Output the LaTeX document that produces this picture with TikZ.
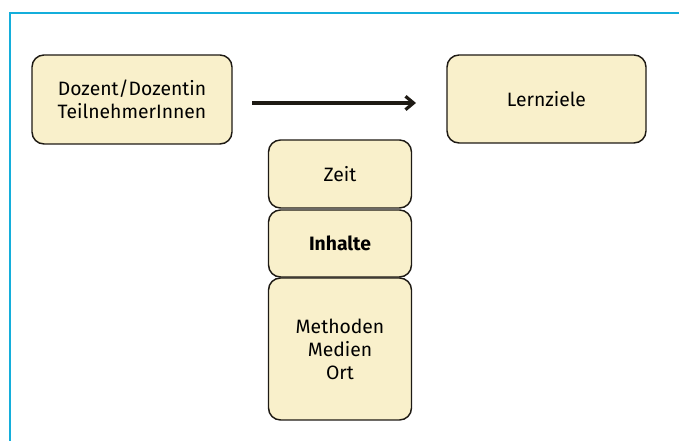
\documentclass[tikz,border=0pt]{standalone}
\usepackage{fontspec}
\setmainfont{Fira Sans}
\usetikzlibrary{arrows.meta}
\definecolor{boxfill}{HTML}{F9F0CB}
\definecolor{frameblue}{HTML}{14AEDB}
\definecolor{boxline}{HTML}{1E1A14}
\tikzset{
  card/.style={draw=boxline, line width=1.1pt, fill=boxfill, rounded corners=9pt,
    inner sep=0pt, align=center, font=\fontsize{14.5}{17.2}\selectfont},
}
\begin{document}
\begin{tikzpicture}[x=0.75pt,y=-0.75pt]
\useasboundingbox (0,0) rectangle (679,441);
% frame
\draw[frameblue, line width=2.2pt] (10,441) -- (10,13) -- (679,13);
% boxes
\node[card, minimum width=200*0.75pt, minimum height=89*0.75pt] (doz) at (132,99.5) {Dozent/Dozentin\\TeilnehmerInnen};
\node[card, minimum width=199*0.75pt, minimum height=88*0.75pt] (lz) at (546.5,99) {Lernziele};
\node[card, minimum width=143*0.75pt, minimum height=68*0.75pt] (zeit) at (340,174) {Zeit};
\node[card, minimum width=143*0.75pt, minimum height=67*0.75pt] (inh) at (340,243.5) {\bfseries Inhalte};
\node[card, minimum width=143*0.75pt, minimum height=142*0.75pt] (meth) at (340,349) {Methoden\\Medien\\Ort};
% arrow
\coordinate (as) at (252,103);
\coordinate (ae) at (416,103);
\draw[line width=2.4pt, boxline, -{Straight Barb[length=6pt,width=10pt,line width=2.4pt]}] (as) -- (ae);
\end{tikzpicture}
\end{document}
